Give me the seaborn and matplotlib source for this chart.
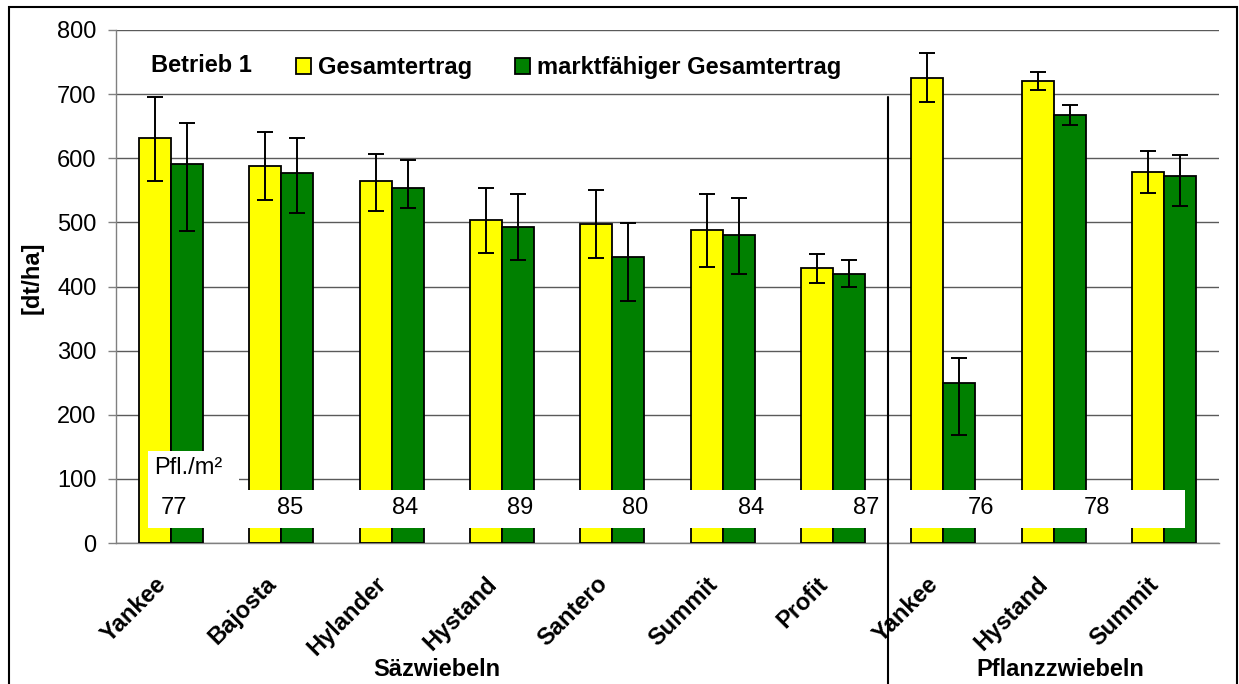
import numpy as np
import pandas as pd
import matplotlib
matplotlib.use("Agg")
import matplotlib.pyplot as plt
import matplotlib.transforms as mtransforms
from matplotlib.patches import Rectangle, Patch
import seaborn as sns

# ---------------- data ----------------
categories = ["Yankee", "Bajosta", "Hylander", "Hystand", "Santero", "Summit", "Profit",
              "Yankee", "Hystand", "Summit"]
groups = ["Säzwiebeln"] * 7 + ["Pflanzzwiebeln"] * 3
series_names = ["Gesamtertrag", "marktfähiger Gesamtertrag"]

gesamt = [631, 588, 564, 504, 498, 488, 429, 725, 721, 578]
gesamt_lo = [565, 535, 518, 452, 444, 430, 406, 688, 706, 546]
gesamt_hi = [695, 641, 607, 554, 550, 545, 451, 764, 734, 611]

markt = [591, 577, 554, 493, 446, 481, 420, 249, 668, 573]
markt_lo = [486, 515, 522, 441, 378, 420, 400, 169, 652, 526]
markt_hi = [655, 631, 598, 545, 499, 538, 442, 288, 683, 605]

pflanzen = [77, 85, 84, 89, 80, 84, 87, 76, 78]
y_ticks = [0, 100, 200, 300, 400, 500, 600, 700, 800]

# ---------------- styling ----------------
sns.set_style("white")
plt.rcParams["font.family"] = ["Liberation Sans", "DejaVu Sans"]
plt.rcParams["text.color"] = "black"
plt.rcParams["axes.labelcolor"] = "black"
plt.rcParams["xtick.labelcolor"] = "black"
plt.rcParams["ytick.labelcolor"] = "black"
FS = 17

yellow = "#FFFF00"
green = "#008000"

keys = [f"{i}" for i in range(len(categories))]
df = pd.DataFrame({
    "key": keys * 2,
    "serie": [series_names[0]] * len(keys) + [series_names[1]] * len(keys),
    "value": gesamt + markt,
})

fig = plt.figure(figsize=(12.39, 6.84), dpi=100)
ax = fig.add_axes([116 / 1239, 1 - 543 / 684, (1219 - 116) / 1239, (543 - 30) / 684])

sns.barplot(data=df, x="key", y="value", hue="serie", order=keys, hue_order=series_names,
            palette=[yellow, green], saturation=1, edgecolor="black", linewidth=1.3,
            width=0.58, gap=0, errorbar=None, ax=ax, zorder=3)

# error bars
for cont, vals, lo, hi in zip(ax.containers, [gesamt, markt], [gesamt_lo, markt_lo], [gesamt_hi, markt_hi]):
    xs = [p.get_x() + p.get_width() / 2 for p in cont.patches]
    v = np.array(vals, float)
    yerr = [v - np.array(lo), np.array(hi) - v]
    ax.errorbar(xs, v, yerr=yerr, fmt="none", ecolor="black", elinewidth=1.4,
                capsize=6, capthick=1.4, zorder=6)

ax.set_xlim(-0.5, len(categories) - 0.5)
ax.set_ylim(0, 800)
ax.set_yticks(y_ticks)
ax.set_yticklabels([str(t) for t in y_ticks], fontsize=FS, color="black")
ax.yaxis.grid(True, color="#5a5a5a", linewidth=1)
ax.set_axisbelow(True)

# category labels (label anchors nudged slightly left of the category centres)
ax.set_xticks(np.arange(len(categories)) - 0.08)
ax.set_xticklabels(categories, rotation=45, ha="right", va="center", rotation_mode="anchor",
                   fontsize=FS, fontweight="bold", color="black")
ax.set_xticks(np.arange(-0.5, len(categories), 1), minor=True)
ax.tick_params(axis="x", which="major", length=0, pad=27)
ax.tick_params(axis="x", which="minor", length=6, color="#808080", width=1)
ax.tick_params(axis="y", length=6, color="#808080", width=1, pad=8, left=True)
ax.set_xlabel("")
ax.set_ylabel("[dt/ha]", fontsize=FS, fontweight="bold", color="black")
ax.yaxis.set_label_coords(-0.066, 0.518)

for s in ["top", "right"]:
    ax.spines[s].set_visible(False)
for s in ["left", "bottom"]:
    ax.spines[s].set_color("#808080")
    ax.spines[s].set_linewidth(1)

# legend
if ax.get_legend() is not None:
    ax.get_legend().remove()
handles = [Patch(facecolor=yellow, edgecolor="black", linewidth=1.3),
           Patch(facecolor=green, edgecolor="black", linewidth=1.3)]
leg = ax.legend(handles, series_names, ncol=2, loc="center left", bbox_to_anchor=(0.163, 0.926),
                frameon=False, handlelength=0.65, handleheight=0.65, handletextpad=0.3,
                columnspacing=1.8, prop={"size": FS, "weight": "bold"}, borderpad=0,
                borderaxespad=0)
for t in leg.get_texts():
    t.set_color("black")
ax.text(0.032, 0.93, "Betrieb 1", transform=ax.transAxes, fontsize=FS, fontweight="bold",
        ha="left", va="center", color="black")

# plant density boxes
ax.add_patch(Rectangle((0.029, 0.029), 0.94, 0.074, transform=ax.transAxes,
                       facecolor="white", edgecolor="none", zorder=7))
ax.add_patch(Rectangle((0.029, 0.102), 0.0825, 0.077, transform=ax.transAxes,
                       facecolor="white", edgecolor="none", zorder=7))
ax.text(0.035, 0.146, "Pfl./m²", transform=ax.transAxes, fontsize=FS, ha="left",
        va="center", zorder=8, color="black")
bt = mtransforms.blended_transform_factory(ax.transData, ax.transAxes)
for i, n in enumerate(pflanzen):
    ax.text(0.03 + i * 1.045, 0.068, str(n), transform=bt, fontsize=FS, ha="center",
            va="center", zorder=8, color="black")

# separator line between groups
ax.plot([6.5, 6.5], [0.869, -0.35], transform=bt, color="black", lw=1.5,
        clip_on=False, zorder=9)

# group labels
fig.text(437 / 1239, 1 - 669 / 684, "Säzwiebeln", fontsize=FS, fontweight="bold",
         ha="center", va="center", color="black")
fig.text(1060 / 1239, 1 - 669 / 684, "Pflanzzwiebeln", fontsize=FS, fontweight="bold",
         ha="center", va="center", color="black")

# outer frame
fig.patches.append(Rectangle((9 / 1239, -0.1), (1237 - 9) / 1239, 1.1 - 7 / 684,
                             transform=fig.transFigure, fill=False, edgecolor="black",
                             linewidth=1.5))

fig.savefig("out.png", dpi=100)
